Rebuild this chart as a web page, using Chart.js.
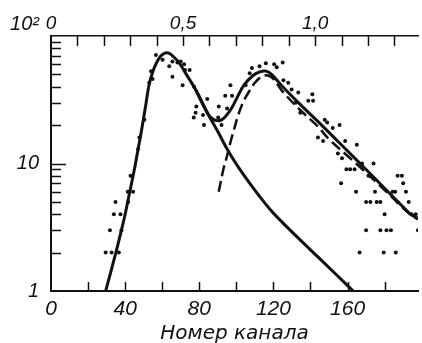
<!DOCTYPE html>
<html>
<head>
<meta charset="utf-8">
<script src="https://cdn.jsdelivr.net/npm/chart.js@4"></script>
<style>
  body { margin: 0; background: #fff; }
</style>
</head>
<body>
<canvas id="spectrum" width="422" height="343"></canvas>
<script>
  // измеренные точки (номер канала, число отсчётов)
  const dotChannel = [29.5, 32.7, 36.6, 31.8, 38, 33.9, 37.5, 34.8, 41.6, 41.4, 44.3, 42.9, 47, 47.7, 50.4, 53, 54, 54.8,
    56.6, 60.2, 63.8, 65.5, 65.5, 68.2, 70, 71.8, 72.3, 74.8, 71, 77.2, 78.4, 78, 77, 82, 82.5, 84.3,
    90.5, 90.2, 92, 95, 94, 97.7, 96.8,
    105, 107.2, 108.4, 112.5, 115.9, 120.4, 121.8, 125, 125.4, 128, 129.8, 133.4, 132, 134.5, 138.8, 141.4, 141,
    147.7, 149, 152, 155.7, 144, 146.8, 158.7, 165, 154.8, 157, 167.8, 174, 159.4, 161.4, 163.8,
    156.5, 164.6, 171.3, 174.8, 184.3, 185.7, 187, 189.3, 190, 191.5,
    170, 172.3, 175.7, 177.7, 187, 193, 180, 194.6, 196.8,
    170, 177.7, 181, 183.4, 198, 166.5, 179.5, 186];
  const dotCount = [2, 2, 2, 3, 3, 4, 4, 5, 5, 6, 6, 8, 13, 16, 22, 43, 53, 46,
    71, 65, 58, 48, 63, 62, 63, 60, 54, 54, 41, 40, 28, 25, 23, 24, 20, 32,
    28, 23, 20, 27, 34, 34, 41,
    41, 51, 56, 58, 61, 60, 57, 62, 45, 43, 38, 36, 30, 25, 31, 31, 35,
    22, 21, 19, 20, 16, 15, 15, 14, 12, 11, 10, 10, 9, 9, 9,
    7, 6, 8, 6, 6, 6, 8, 8, 7, 6,
    5, 5, 5, 5, 5, 5, 4, 4, 4,
    3, 3, 3, 3, 3, 2, 2, 2];

  // первый пик (сплошная)
  const peak1Ch = [29.5, 35, 38, 40, 42.5, 45, 47, 48.5, 51, 53, 55, 57, 59, 61, 62.5, 64, 66, 69, 73, 78, 85, 90, 95, 100, 106, 112, 118, 124, 134, 144, 154, 163];
  const peak1Val = [1, 2, 3, 4, 6, 9, 13, 17, 28, 42, 53, 62, 69, 73, 74, 73, 69, 62, 50, 38, 24, 17.8, 13, 9.9, 7.4, 5.65, 4.4, 3.55, 2.55, 1.85, 1.34, 1];

  // сумма (сплошная)
  const sumCh = [78, 85, 88, 90, 92, 94, 97, 100, 104, 109, 113, 116, 119, 125, 134, 146, 155, 165.6, 180, 194, 198];
  const sumVal = [38, 24, 22, 21.6, 22, 23.3, 26.5, 32, 41, 49, 52.5, 53, 50, 40, 29.5, 20, 14.8, 10.4, 6.4, 4, 3.7];

  // второй пик (штрих)
  const peak2Ch = [90.5, 93, 95, 97, 99, 101, 104, 107, 110, 113.6, 117, 120, 125.4, 136, 144, 150, 162, 180, 194, 198];
  const peak2Val = [6, 9, 11.5, 15, 19, 24, 31, 37, 43, 48, 49, 46, 36, 25, 19.5, 15.5, 10.8, 6.2, 3.95, 3.65];

  // оси
  const xTicks = [0, 20, 40, 60, 80, 100, 120, 140, 160, 180];
  const xLabeled = [0, 40, 80, 120, 160];
  const topTicks = [0, 0.1, 0.2, 0.3, 0.4, 0.5, 0.6, 0.7, 0.8, 0.9, 1.0, 1.1, 1.2, 1.3];
  const topLabels = { 0: '0', 5: '0,5', 10: '1,0' };
  const yTicks = [1, 2, 3, 4, 5, 6, 7, 8, 9, 10, 20, 30, 40, 50, 60, 70, 80, 90, 100];
  const chPerUnit = 142.5; // канал, соответствующий 1,0 на верхней шкале
  const xMax = 198;

  const ink = '#111';
  const pts = (xs, ys) => xs.map((x, i) => ({ x: x, y: ys[i] }));
  const tickFont = (size) => ({ family: "'Liberation Sans', Arial, sans-serif", style: 'italic', size: size });

  // засечки внутрь графика
  const inwardTicks = {
    id: 'inwardTicks',
    afterDraw(chart) {
      const { ctx, chartArea: a, scales } = chart;
      ctx.save();
      ctx.strokeStyle = ink;
      ctx.lineWidth = 1.5;
      ctx.beginPath();
      xTicks.filter(v => v > 0).forEach(v => {
        const px = Math.round(scales.x.getPixelForValue(v)) + 0.5;
        ctx.moveTo(px, a.bottom);
        ctx.lineTo(px, a.bottom - 9);
      });
      topTicks.filter(v => v > 0).forEach(v => {
        const px = Math.round(scales.x2.getPixelForValue(v)) + 0.5;
        ctx.moveTo(px, a.top);
        ctx.lineTo(px, a.top + 10);
      });
      yTicks.filter(v => v > 1 && v < 100).forEach(v => {
        const py = Math.round(scales.y.getPixelForValue(v)) + 0.5;
        ctx.moveTo(a.left, py);
        ctx.lineTo(a.left + (v === 10 ? 15 : 10), py);
      });
      ctx.stroke();
      ctx.restore();
    }
  };

  const curve = (label, xs, ys, width, dash) => ({
    label: label,
    data: pts(xs, ys),
    showLine: true,
    borderColor: ink,
    borderWidth: width,
    borderDash: dash,
    pointRadius: 0,
    tension: 0.35,
  });

  new Chart(document.getElementById('spectrum').getContext('2d'), {
    type: 'scatter',
    data: {
      datasets: [
        {
          label: 'points',
          data: pts(dotChannel, dotCount),
          showLine: false,
          pointRadius: 2,
          pointBackgroundColor: ink,
          pointBorderWidth: 0,
        },
        curve('peak1', peak1Ch, peak1Val, 3, []),
        curve('sum', sumCh, sumVal, 3, []),
        curve('peak2', peak2Ch, peak2Val, 2.5, [11, 5]),
      ],
    },
    options: {
      responsive: false,
      animation: false,
      layout: { padding: { left: 0, right: 1, top: 0, bottom: 0 } },
      plugins: { legend: { display: false }, tooltip: { enabled: false } },
      scales: {
        x: {
          type: 'linear',
          position: 'bottom',
          min: 0,
          max: xMax,
          afterBuildTicks: (s) => { s.ticks = xTicks.map(v => ({ value: v })); },
          afterFit: (s) => { s.height = 52; },
          grid: { display: false, drawTicks: false },
          border: { display: true, color: ink, width: 2 },
          ticks: {
            autoSkip: false,
            maxRotation: 0,
            padding: 6,
            color: ink,
            font: tickFont(21),
            callback: (v) => xLabeled.includes(v) ? String(v) : '',
          },
          title: {
            display: true,
            text: 'Номер канала',
            color: ink,
            font: { family: "'DejaVu Sans', sans-serif", style: 'italic', size: 20 },
            padding: { top: 0, bottom: -3 },
          },
        },
        x2: {
          type: 'linear',
          position: 'top',
          min: 0,
          max: xMax / chPerUnit,
          afterBuildTicks: (s) => { s.ticks = topTicks.map(v => ({ value: v })); },
          afterFit: (s) => { s.height = 35; },
          grid: { display: false, drawTicks: false },
          border: { display: true, color: ink, width: 1.5 },
          ticks: {
            autoSkip: false,
            maxRotation: 0,
            padding: 1,
            color: ink,
            font: tickFont(19),
            callback: (v) => topLabels[Math.round(v * 10)] || '',
          },
        },
        y: {
          type: 'logarithmic',
          position: 'left',
          min: 1,
          max: 100,
          afterBuildTicks: (s) => { s.ticks = yTicks.map(v => ({ value: v })); },
          afterFit: (s) => { s.width = 51; },
          grid: { display: false, drawTicks: false },
          border: { display: true, color: ink, width: 2 },
          ticks: {
            autoSkip: false,
            padding: 12,
            color: ink,
            font: tickFont(20),
            callback: (v) => v === 1 ? '1' : v === 10 ? '10' : v === 100 ? ['10²', ''] : '',
          },
        },
      },
    },
    plugins: [inwardTicks],
  });
</script>
</body>
</html>
